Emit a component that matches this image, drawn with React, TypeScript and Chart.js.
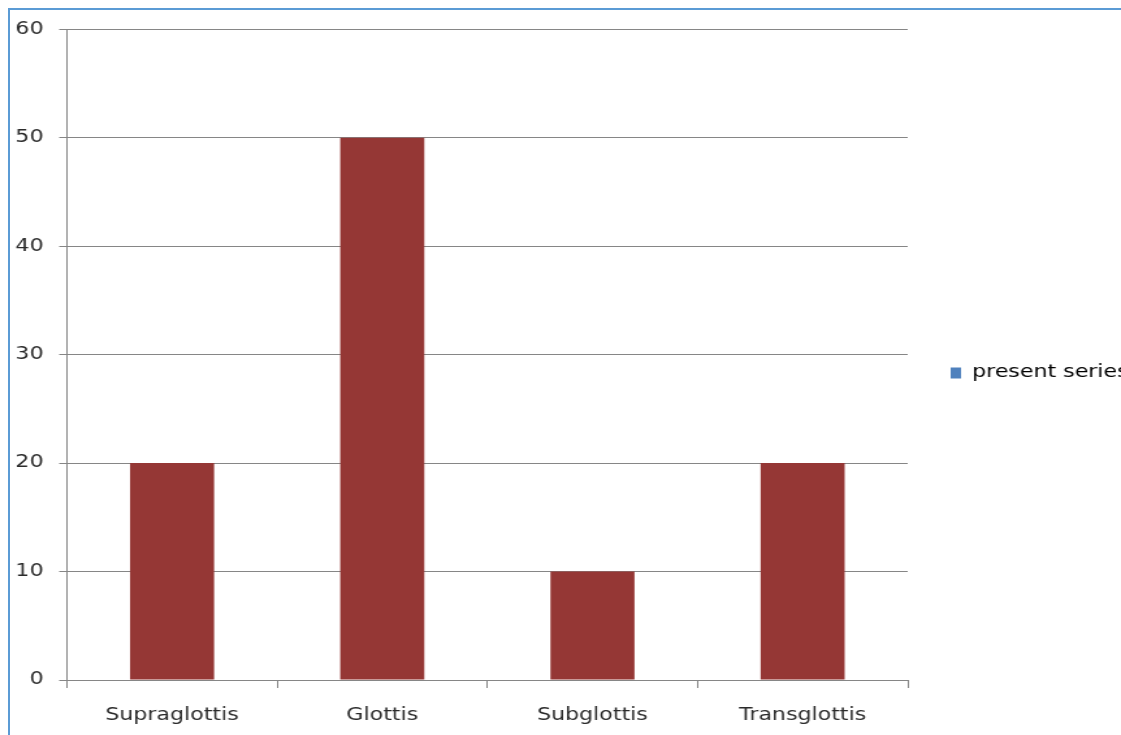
import React, { useEffect, useRef } from 'react';
import { Chart, registerables } from 'chart.js';

Chart.register(...registerables);

const categories = ['Supraglottis', 'Glottis', 'Subglottis', 'Transglottis'];
const presentSeries = [20, 50, 10, 20];
const seriesName = 'present series';
const yMin = 0;
const yMax = 60;
const yStep = 10;

const FONT = 'DejaVu Sans';
const TEXT = '#2b2b2b';
const LINE = '#868686';
const BAR = '#953735';
const LEGEND_BOX = '#4F81BD';

// The reference picture is horizontally stretched; the canvas is drawn
// narrower and widened by CSS to reproduce the same wide glyphs.
const CANVAS_W = 862;
const CANVAS_H = 732;

export default function App() {
  const ref = useRef<HTMLCanvasElement | null>(null);

  useEffect(() => {
    const canvas = ref.current;
    if (!canvas) return;
    const chart = new Chart(canvas, {
      type: 'bar',
      data: {
        labels: categories,
        datasets: [
          {
            label: seriesName,
            data: presentSeries,
            backgroundColor: BAR,
            borderWidth: 0,
            barPercentage: 0.4,
            categoryPercentage: 1,
          },
        ],
      },
      options: {
        responsive: false,
        animation: false,
        devicePixelRatio: 1,
        layout: { padding: { top: 0, left: 0, right: 0, bottom: 0 } },
        plugins: {
          tooltip: { enabled: false },
          title: { display: false },
          legend: {
            display: true,
            position: 'right',
            maxWidth: 164,
            labels: {
              boxWidth: 8,
              boxHeight: 11,
              padding: 33,
              color: TEXT,
              font: { family: FONT, size: 17 },
              generateLabels: () => [
                {
                  text: seriesName,
                  fillStyle: LEGEND_BOX,
                  strokeStyle: LEGEND_BOX,
                  lineWidth: 0,
                  hidden: false,
                  datasetIndex: 0,
                },
              ],
            },
          },
        },
        scales: {
          x: {
            type: 'category',
            offset: true,
            afterFit: (scale: any) => {
              scale.height = 59;
            },
            grid: {
              display: true,
              offset: true,
              drawOnChartArea: false,
              drawTicks: true,
              tickLength: 8,
              color: LINE,
              lineWidth: 1,
            },
            border: { display: true, color: LINE, width: 1 },
            ticks: {
              color: TEXT,
              font: { family: FONT, size: 17 },
              padding: 17,
              maxRotation: 0,
              autoSkip: false,
            },
          },
          y: {
            min: yMin,
            max: yMax,
            afterFit: (scale: any) => {
              scale.width = 51.5;
            },
            grid: {
              display: true,
              drawOnChartArea: true,
              drawTicks: true,
              tickLength: 6,
              color: LINE,
              lineWidth: 1,
            },
            border: { display: true, color: LINE, width: 1 },
            ticks: {
              stepSize: yStep,
              color: TEXT,
              font: { family: FONT, size: 17 },
              padding: 12,
            },
          },
        },
      },
    });
    return () => chart.destroy();
  }, []);

  return (
    <div
      style={{
        position: 'absolute',
        left: 0,
        top: 0,
        width: 1121,
        height: 735,
        overflow: 'hidden',
        background: '#ffffff',
      }}
    >
      <div
        style={{
          position: 'absolute',
          left: 8,
          top: 8,
          width: 1140,
          height: 760,
          borderLeft: '2px solid #5B9BD5',
          borderTop: '2px solid #5B9BD5',
          boxSizing: 'border-box',
        }}
      />
      <canvas
        ref={ref}
        width={CANVAS_W}
        height={CANVAS_H}
        style={{ position: 'absolute', left: 0, top: 7, width: '1121px', height: CANVAS_H + 'px' }}
      />
    </div>
  );
}
